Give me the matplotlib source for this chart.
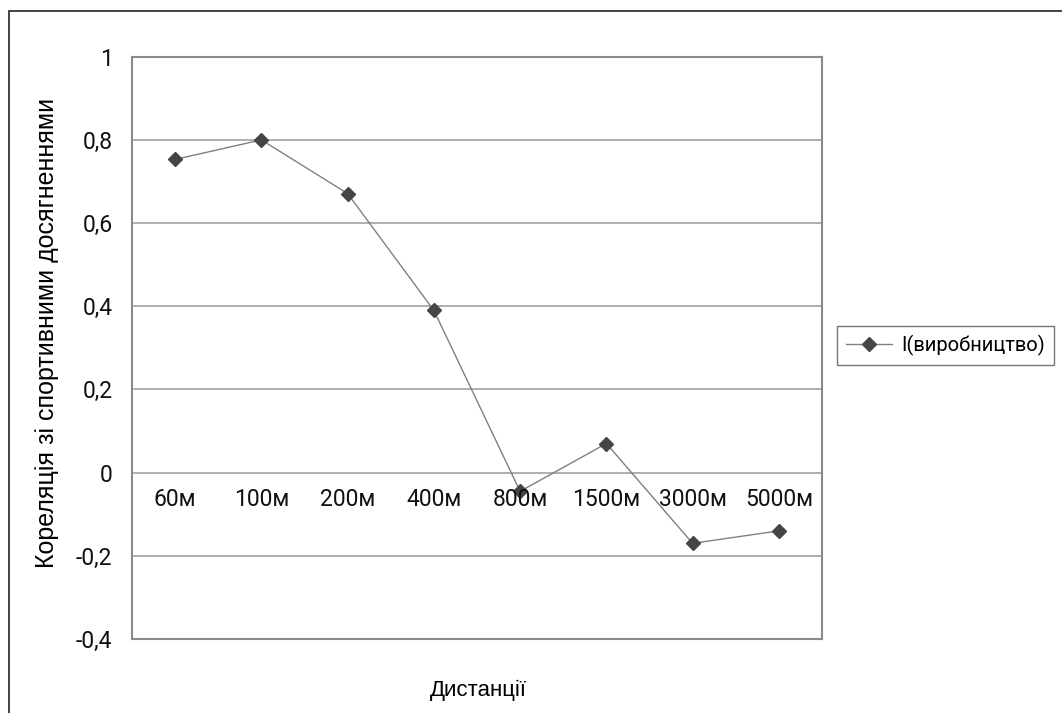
import matplotlib
matplotlib.use("Agg")
import matplotlib.pyplot as plt
from matplotlib.patches import Rectangle

plt.rcParams['font.family'] = ['Roboto', 'DejaVu Sans']

# Distances and correlation values
categories = ["60м", "100м", "200м", "400м", "800м", "1500м", "3000м", "5000м"]
correlation = [0.753, 0.800, 0.671, 0.390, -0.045, 0.070, -0.170, -0.140]
series_name = "I(виробництво)"
y_ticks = [-0.4, -0.2, 0.0, 0.2, 0.4, 0.6, 0.8, 1.0]
y_tick_labels = ["-0,4", "-0,2", "0", "0,2", "0,4", "0,6", "0,8", "1"]

W, H = 1062, 713
fig = plt.figure(figsize=(W / 100, H / 100), dpi=100)
fig.patch.set_facecolor("white")

# outer chart frame
fig.patches.append(Rectangle((9 / W, -0.05), 1.2, 1 - 11 / H + 0.05,
                             transform=fig.transFigure, fill=False,
                             edgecolor="#222222", linewidth=1.2))

ax = fig.add_axes([132 / W, 1 - 639 / H, 690 / W, (639 - 56.7) / H])
x = list(range(len(categories)))
line, = ax.plot(x, correlation, color="#808080", linewidth=1.0,
                marker="D", markersize=7.2, markerfacecolor="#454545",
                markeredgecolor="#454545", label=series_name, zorder=3)

ax.set_xlim(-0.5, len(categories) - 0.5)
ax.set_ylim(-0.4, 1.0)
ax.set_yticks(y_ticks)
ax.set_yticklabels(y_tick_labels, fontsize=16.5)
ax.tick_params(axis="y", length=0, pad=14, labelcolor="#111111")
ax.set_xticks([])
ax.yaxis.grid(True, color="#a8a8a8", linewidth=1.3)
ax.set_axisbelow(True)
for s in ax.spines.values():
    s.set_color("#8a8a8a")
    s.set_linewidth(1.5)

# category labels sit just under the zero line
for xi, lab in zip(x, categories):
    ax.text(xi, -0.064, lab, ha="center", va="center", fontsize=16.5,
            color="#111111")

fig.text(47 / W, 1 - 333 / H, "Кореляція зі спортивними досягненнями",
         rotation=90, ha="center", va="center", fontsize=18,
         family=["Liberation Sans", "DejaVu Sans"])
fig.text(478 / W, 1 - 690 / H, "Дистанції", ha="center", va="center",
         fontsize=16, family=["Liberation Sans", "DejaVu Sans"])

leg = fig.legend(handles=[line], loc="center left",
                 bbox_to_anchor=(837 / W, 1 - 345.5 / H),
                 prop={"size": 14.5}, frameon=True,
                 fancybox=False, handlelength=2.3, borderpad=0.45,
                 handletextpad=0.45, borderaxespad=0)
leg.get_frame().set_edgecolor("#555555")
leg.get_frame().set_linewidth(1.0)

fig.savefig("out.png", dpi=100, facecolor="white")
